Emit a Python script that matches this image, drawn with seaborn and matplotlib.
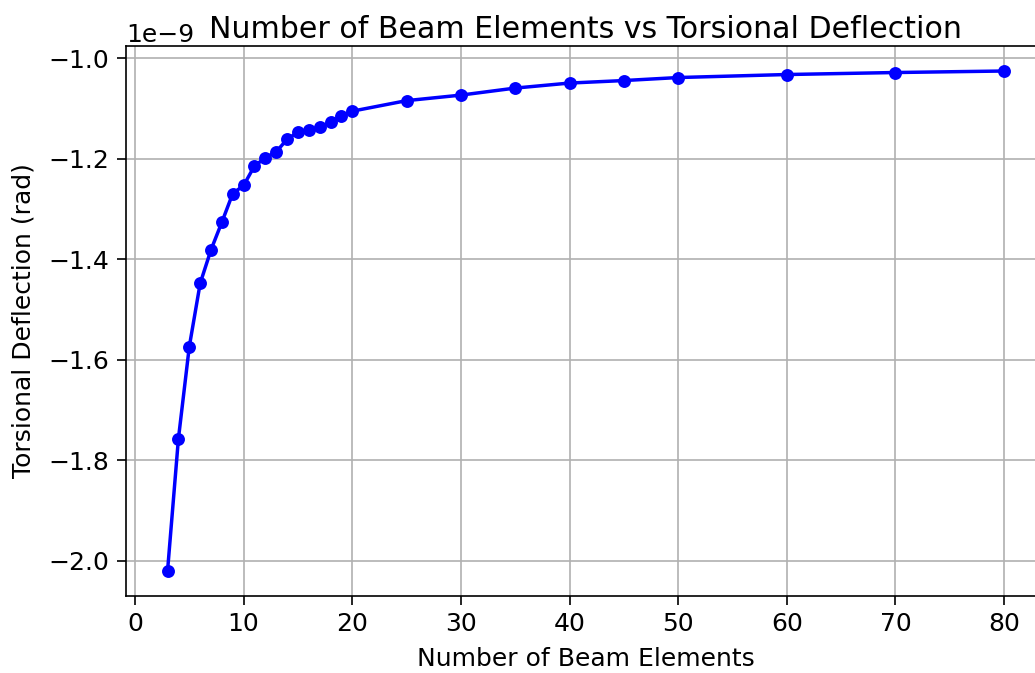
import matplotlib
matplotlib.use("Agg")
import matplotlib.pyplot as plt
import seaborn as sns
import pandas as pd

elements = [3, 4, 5, 6, 7, 8, 9, 10, 11, 12, 13, 14, 15, 16, 17, 18, 19, 20,
            25, 30, 35, 40, 45, 50, 60, 70, 80]
deflection = [-2.020, -1.757, -1.574, -1.448, -1.381, -1.326, -1.269, -1.253,
              -1.214, -1.198, -1.186, -1.161, -1.147, -1.143, -1.137, -1.127,
              -1.115, -1.105, -1.084, -1.073, -1.059, -1.049, -1.044, -1.038,
              -1.032, -1.028, -1.025]
deflection = [v * 1e-9 for v in deflection]

df = pd.DataFrame({"n": elements, "d": deflection})

fig = plt.figure(figsize=(10.35, 6.73), dpi=100)
ax = fig.add_axes([0.1215, 0.1151, 0.889, 0.8165])

sns.lineplot(data=df, x="n", y="d", ax=ax, color="blue", marker="o",
             markersize=9.3, markeredgecolor="blue", markeredgewidth=0,
             linewidth=2.5)

ax.grid(True, color="#b0b0b0", linewidth=1.2)
ax.set_axisbelow(True)
ax.set_xlabel("Number of Beam Elements", fontsize=18, labelpad=8)
ax.set_ylabel("Torsional Deflection (rad)", fontsize=18, labelpad=9)
ax.set_title("Number of Beam Elements vs Torsional Deflection", fontsize=21.6)
ax.tick_params(labelsize=18, length=6.5, width=1.2, pad=5.5)
ax.yaxis.get_offset_text().set_fontsize(18)
for s in ax.spines.values():
    s.set_linewidth(1.2)

fig.savefig("out.png", dpi=100)
